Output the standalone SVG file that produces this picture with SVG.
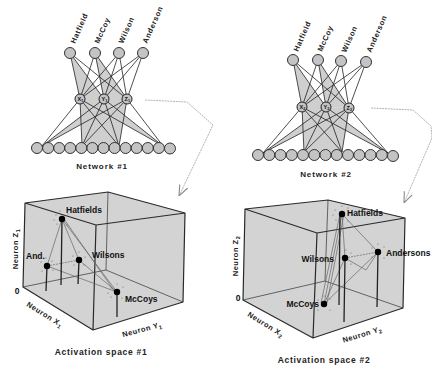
<svg xmlns="http://www.w3.org/2000/svg" width="432" height="370" viewBox="0 0 432 370">
<defs>
<style>
.bg{fill:#ffffff}
.shade{fill:#cfcfcf;stroke:none}
.w{stroke:#222;stroke-width:0.8;fill:none}
.node{fill:#c4c4c4;stroke:#333;stroke-width:1}
.hid{fill:#c4c4c4;stroke:#222;stroke-width:1}
.hl{font-family:"Liberation Sans",Arial,sans-serif;font-weight:bold;font-size:5.5px;fill:#111}
.nl{font-family:"Liberation Sans",Arial,sans-serif;font-weight:bold;font-size:7.5px;letter-spacing:0.6px;fill:#222}
.cap{font-family:"Liberation Sans",Arial,sans-serif;font-weight:bold;font-size:8px;letter-spacing:0.9px;fill:#222}
.acap{font-family:"Liberation Sans",Arial,sans-serif;font-weight:bold;font-size:8.5px;letter-spacing:0.7px;fill:#222}
.pl{font-family:"Liberation Sans",Arial,sans-serif;font-weight:bold;font-size:8.5px;fill:#111}
.ax{font-family:"Liberation Sans",Arial,sans-serif;font-weight:bold;font-size:7.5px;letter-spacing:0.5px;fill:#222}
.cube{fill:#d3d3d3;stroke:none}
.edge{stroke:#2a2a2a;stroke-width:1.2;fill:none;stroke-linejoin:round}
.back{stroke:#444;stroke-width:0.8;fill:none}
.stem{stroke:#222;stroke-width:1.3}
.tie{stroke:#666;stroke-width:0.7;fill:none}
.dot{fill:#000}
.sp{fill:#555}
.conn{stroke:#a0a0a0;stroke-width:0.8;fill:none;stroke-dasharray:2 0.8}
</style>
<marker id="arr" viewBox="0 0 10 10" refX="10" refY="5" markerWidth="11" markerHeight="11" markerUnits="userSpaceOnUse" orient="auto">
<path d="M0,1 L10,5 L0,9" fill="none" stroke="#8a8a8a" stroke-width="1"/>
</marker>
</defs>
<rect class="bg" x="0" y="0" width="432" height="370"/>

<!-- ===== Network 1 ===== -->
<g id="network1">
<polygon class="shade" points="70,53 80,99 104,99"/>
<polygon class="shade" points="95,53 104,99 127,99"/>
<polygon class="shade" points="80,99 127,99 119,146 82,146"/>
<polygon class="shade" points="104,99 127,99 42,146"/>
<polygon class="shade" points="80,99 104,99 163,146"/>
<g class="w">
<path d="M70,53L80,99M70,53L104,99M70,53L127,99"/>
<path d="M95,53L80,99M95,53L104,99M95,53L127,99"/>
<path d="M119,53L80,99M119,53L104,99M119,53L127,99"/>
<path d="M143,53L80,99M143,53L104,99M143,53L127,99"/>
<path d="M80,99L42,146M80,99L82,146M80,99L119,146M80,99L163,146"/>
<path d="M104,99L42,146M104,99L82,146M104,99L119,146M104,99L163,146"/>
<path d="M127,99L42,146M127,99L82,146M127,99L119,146M127,99L163,146"/>
</g>
<g id="n1-top">
<circle class="node" cx="70" cy="53" r="5.5"/>
<circle class="node" cx="95" cy="53" r="5.5"/>
<circle class="node" cx="119" cy="53" r="5.5"/>
<circle class="node" cx="143" cy="53" r="5.5"/>
</g>
<text class="nl" transform="translate(75,44) rotate(-66)">Hatfield</text>
<text class="nl" transform="translate(99,44) rotate(-66)">McCoy</text>
<text class="nl" transform="translate(123,44) rotate(-66)">Wilson</text>
<text class="nl" transform="translate(147,44) rotate(-66)">Anderson</text>
<g id="n1-hidden">
<circle class="hid" cx="80" cy="99" r="5"/>
<circle class="hid" cx="104" cy="99" r="5"/>
<circle class="hid" cx="127" cy="99" r="5"/>
<text class="hl" x="77.5" y="101">X<tspan font-size="3.8" dy="1">1</tspan></text>
<text class="hl" x="101.5" y="101">Y<tspan font-size="3.8" dy="1">1</tspan></text>
<text class="hl" x="124.5" y="101">Z<tspan font-size="3.8" dy="1">1</tspan></text>
</g>
<g id="n1-bottom">
<circle class="node" cx="37" cy="148" r="5.5"/>
<circle class="node" cx="48.1" cy="148" r="5.5"/>
<circle class="node" cx="59.2" cy="148" r="5.5"/>
<circle class="node" cx="70.2" cy="148" r="5.5"/>
<circle class="node" cx="81.3" cy="148" r="5.5"/>
<circle class="node" cx="92.4" cy="148" r="5.5"/>
<circle class="node" cx="103.5" cy="148" r="5.5"/>
<circle class="node" cx="114.6" cy="148" r="5.5"/>
<circle class="node" cx="125.6" cy="148" r="5.5"/>
<circle class="node" cx="136.7" cy="148" r="5.5"/>
<circle class="node" cx="147.8" cy="148" r="5.5"/>
<circle class="node" cx="158.9" cy="148" r="5.5"/>
<circle class="node" cx="170" cy="148.5" r="5.5"/>
</g>
<text class="cap" x="102" y="169" text-anchor="middle">Network  #1</text>
</g>

<!-- ===== Network 2 ===== -->
<g id="network2">
<polygon class="shade" points="293,60 302,107 326,107"/>
<polygon class="shade" points="318,60 326,107 349,108"/>
<polygon class="shade" points="302,107 349,108 342,152 304,152"/>
<polygon class="shade" points="326,107 349,108 263,153"/>
<polygon class="shade" points="302,107 326,107 388,153"/>
<g class="w">
<path d="M293,60L302,107M293,60L326,107M293,60L349,108"/>
<path d="M318,60L302,107M318,60L326,107M318,60L349,108"/>
<path d="M341,61L302,107M341,61L326,107M341,61L349,108"/>
<path d="M366,62L302,107M366,62L326,107M366,62L349,108"/>
<path d="M302,107L263,153M302,107L304,152M302,107L342,152M302,107L388,153"/>
<path d="M326,107L263,153M326,107L304,152M326,107L342,152M326,107L388,153"/>
<path d="M349,108L263,153M349,108L304,152M349,108L342,152M349,108L388,153"/>
</g>
<g id="n2-top">
<circle class="node" cx="293" cy="60" r="5.5"/>
<circle class="node" cx="318" cy="60" r="5.5"/>
<circle class="node" cx="341" cy="61" r="5.5"/>
<circle class="node" cx="366" cy="62" r="5.5"/>
</g>
<text class="nl" transform="translate(298,52) rotate(-66)">Hatfield</text>
<text class="nl" transform="translate(322,52) rotate(-66)">McCoy</text>
<text class="nl" transform="translate(346,53) rotate(-66)">Wilson</text>
<text class="nl" transform="translate(371,53) rotate(-66)">Anderson</text>
<g id="n2-hidden">
<circle class="hid" cx="302" cy="107" r="5"/>
<circle class="hid" cx="326" cy="107" r="5"/>
<circle class="hid" cx="349" cy="108" r="5"/>
<text class="hl" x="299.5" y="109">X<tspan font-size="3.8" dy="1">2</tspan></text>
<text class="hl" x="323.5" y="109">Y<tspan font-size="3.8" dy="1">2</tspan></text>
<text class="hl" x="346.5" y="110">Z<tspan font-size="3.8" dy="1">2</tspan></text>
</g>
<g id="n2-bottom">
<circle class="node" cx="258" cy="155" r="5.5"/>
<circle class="node" cx="269.3" cy="155" r="5.5"/>
<circle class="node" cx="280.5" cy="155" r="5.5"/>
<circle class="node" cx="291.8" cy="155" r="5.5"/>
<circle class="node" cx="303" cy="155" r="5.5"/>
<circle class="node" cx="314.3" cy="155" r="5.5"/>
<circle class="node" cx="325.5" cy="155" r="5.5"/>
<circle class="node" cx="336.8" cy="155" r="5.5"/>
<circle class="node" cx="348" cy="155" r="5.5"/>
<circle class="node" cx="359.3" cy="155" r="5.5"/>
<circle class="node" cx="370.5" cy="155" r="5.5"/>
<circle class="node" cx="381.8" cy="155" r="5.5"/>
<circle class="node" cx="393" cy="156" r="5.5"/>
</g>
<text class="cap" x="326" y="177" text-anchor="middle">Network  #2</text>
</g>

<!-- ===== Cube 1 ===== -->
<g id="space1">
<polygon class="cube" points="25,203 108,192 185,213 183,302 93,330 23,287"/>
<path class="back" d="M108,192L106,270M23,287L106,270L183,302"/>
<path class="edge" d="M25,203L108,192L185,213L96,225Z M25,203L23,287L93,330L183,302L185,213 M96,225L93,330"/>
<g class="tie">
<path d="M62,219L47,266M62,219L79,260M62,219L117,292M64,219L115,292M47,266L117,292M79,260L117,292"/>
<path d="M47,266L79,260" stroke-dasharray="2 1"/>
</g>
<path class="stem" d="M62,219L61,285M47,266L46,291M79,260L78,284M117,292L117,317"/>
<g class="sp">
<circle cx="56" cy="215" r="0.5"/><circle cx="68" cy="214" r="0.5"/><circle cx="57" cy="224" r="0.5"/><circle cx="67" cy="225" r="0.5"/><circle cx="60" cy="211" r="0.5"/><circle cx="54" cy="220" r="0.5"/>
<circle cx="41" cy="262" r="0.5"/><circle cx="52" cy="261" r="0.5"/><circle cx="42" cy="271" r="0.5"/><circle cx="53" cy="270" r="0.5"/><circle cx="46" cy="258" r="0.5"/>
<circle cx="73" cy="256" r="0.5"/><circle cx="85" cy="257" r="0.5"/><circle cx="74" cy="265" r="0.5"/><circle cx="84" cy="265" r="0.5"/><circle cx="79" cy="252" r="0.5"/>
<circle cx="111" cy="288" r="0.5"/><circle cx="123" cy="287" r="0.5"/><circle cx="111" cy="297" r="0.5"/><circle cx="122" cy="298" r="0.5"/><circle cx="117" cy="284" r="0.5"/><circle cx="108" cy="293" r="0.5"/>
</g>
<g class="dot">
<circle cx="62" cy="219" r="3.2"/>
<circle cx="47" cy="266" r="3.2"/>
<circle cx="79" cy="260" r="3.2"/>
<circle cx="117" cy="292" r="3.2"/>
</g>
<text class="pl" x="66" y="213">Hatfields</text>
<text class="pl" x="26" y="259">And.</text>
<text class="pl" x="92" y="258">Wilsons</text>
<text class="pl" x="125" y="302">McCoys</text>
<text class="ax" text-anchor="middle" transform="translate(18,249) rotate(-90)">Neuron Z<tspan font-size="5.5" dy="2">1</tspan></text>
<text class="pl" x="17" y="294" text-anchor="middle">0</text>
<text class="ax" text-anchor="middle" transform="translate(45,314) rotate(32)" y="3">Neuron X<tspan font-size="5.5" dy="2">1</tspan></text>
<text class="ax" text-anchor="middle" transform="translate(142,329) rotate(-15)" y="3">Neuron Y<tspan font-size="5.5" dy="2">1</tspan></text>
<text class="acap" x="101" y="355" text-anchor="middle">Activation space #1</text>
</g>

<!-- ===== Cube 2 ===== -->
<g id="space2">
<polygon class="cube" points="245,209 328,200 405,218 403,308 313,338 243,300"/>
<path class="back" d="M328,200L325,281M243,300L325,281L403,308"/>
<path class="edge" d="M245,209L328,200L405,218L317,233Z M245,209L243,300L313,338L403,308L405,218 M317,233L313,338"/>
<g class="tie">
<path d="M342,214L378,252M342,214L345,258M342,214L324,304M340,214L321,303M344,214L327,303M345,258L324,304M378,252L324,304M345,258L366,270L378,252"/>
<path d="M345,258L378,252" stroke-dasharray="2 1"/>
</g>
<path class="stem" d="M340,214L339,305M345,258L344,322M378,252L377,307"/>
<g class="sp">
<circle cx="335" cy="210" r="0.5"/><circle cx="348" cy="208" r="0.5"/><circle cx="336" cy="220" r="0.5"/><circle cx="348" cy="221" r="0.5"/><circle cx="342" cy="206" r="0.5"/><circle cx="333" cy="215" r="0.5"/>
<circle cx="339" cy="254" r="0.5"/><circle cx="351" cy="253" r="0.5"/><circle cx="339" cy="263" r="0.5"/><circle cx="351" cy="264" r="0.5"/><circle cx="346" cy="250" r="0.5"/>
<circle cx="372" cy="248" r="0.5"/><circle cx="384" cy="247" r="0.5"/><circle cx="372" cy="257" r="0.5"/><circle cx="384" cy="258" r="0.5"/><circle cx="378" cy="244" r="0.5"/>
<circle cx="318" cy="300" r="0.5"/><circle cx="330" cy="299" r="0.5"/><circle cx="318" cy="310" r="0.5"/><circle cx="330" cy="310" r="0.5"/><circle cx="324" cy="296" r="0.5"/><circle cx="315" cy="305" r="0.5"/>
</g>
<g class="dot">
<circle cx="342" cy="214" r="3.2"/>
<circle cx="345" cy="258" r="3.2"/>
<circle cx="378" cy="252" r="3.2"/>
<circle cx="324" cy="304" r="3.2"/>
</g>
<text class="pl" x="347" y="216">Hatfields</text>
<text class="pl" x="334" y="262" text-anchor="end">Wilsons</text>
<text class="pl" x="386" y="256">Andersons</text>
<text class="pl" x="319" y="307" text-anchor="end">McCoys</text>
<text class="ax" text-anchor="middle" transform="translate(238,256) rotate(-90)">Neuron Z<tspan font-size="5.5" dy="2">2</tspan></text>
<text class="pl" x="238" y="301" text-anchor="middle">0</text>
<text class="ax" text-anchor="middle" transform="translate(266,324) rotate(32)" y="3">Neuron X<tspan font-size="5.5" dy="2">2</tspan></text>
<text class="ax" text-anchor="middle" transform="translate(362,334) rotate(-17)" y="3">Neuron Y<tspan font-size="5.5" dy="2">2</tspan></text>
<text class="acap" x="324" y="363" text-anchor="middle">Activation space #2</text>
</g>

<!-- ===== Connectors ===== -->
<g id="connectors">
<path class="conn" d="M145,100L187,102L213,125L179,196" marker-end="url(#arr)"/>
<path class="conn" d="M371,108L413,110L431,126L432,138L404,203" marker-end="url(#arr)"/>
</g>
</svg>
